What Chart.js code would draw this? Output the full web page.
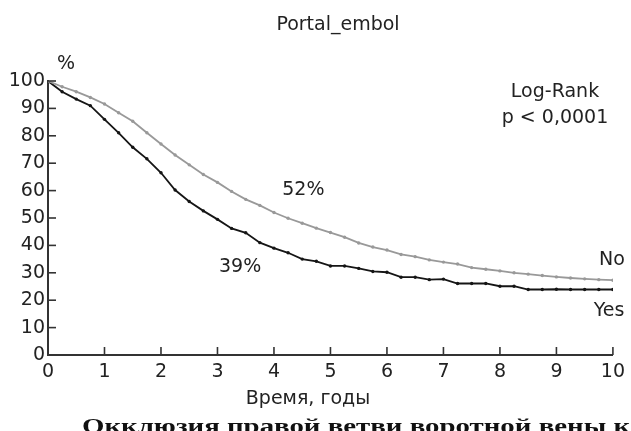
<!DOCTYPE html>
<html>
<head>
<meta charset="utf-8">
<script src="https://cdn.jsdelivr.net/npm/chart.js@4"></script>
<style>
  html, body { margin: 0; padding: 0; background: #fff; }
  #wrap { width: 631px; height: 431px; position: relative; }
</style>
</head>
<body>
<div id="wrap"><canvas id="chart"></canvas></div>
<script>
// survival, % by time in years
const years = [0, 0.25, 0.5, 0.75, 1, 1.25, 1.5, 1.75, 2, 2.25, 2.5, 2.75, 3, 3.25, 3.5, 3.75,
  4, 4.25, 4.5, 4.75, 5, 5.25, 5.5, 5.75, 6, 6.25, 6.5, 6.75, 7, 7.25, 7.5, 7.75,
  8, 8.25, 8.5, 8.75, 9, 9.25, 9.5, 9.75, 10];
const embolNo = [100, 97.9, 96.1, 94.0, 91.6, 88.4, 85.3, 81.1, 77.0, 73.0, 69.4, 65.9, 63.0, 59.7, 56.8, 54.6,
  52, 49.9, 48.1, 46.3, 44.7, 43.0, 40.9, 39.4, 38.3, 36.7, 35.9, 34.7, 33.9, 33.2, 31.9, 31.3,
  30.7, 30.0, 29.5, 29.0, 28.5, 28.1, 27.8, 27.5, 27.3];
const embolYes = [100, 96.1, 93.4, 91.0, 86.0, 81.1, 75.8, 71.6, 66.5, 60.2, 56.0, 52.6, 49.5, 46.2, 44.6, 41.0,
  39, 37.3, 35.0, 34.2, 32.5, 32.5, 31.6, 30.5, 30.2, 28.4, 28.4, 27.5, 27.7, 26.1, 26.1, 26.1,
  25.1, 25.1, 23.9, 23.9, 24.0, 23.9, 23.9, 23.9, 23.9];
const xTicks = [0, 1, 2, 3, 4, 5, 6, 7, 8, 9, 10];
const yTicks = [0, 10, 20, 30, 40, 50, 60, 70, 80, 90, 100];

const SANS = '"DejaVu Sans", sans-serif';
const INK = '#222';

function toPoints(vals) {
  return vals.map((v, i) => ({ x: years[i], y: v }));
}

// inward tick marks + all the free text around the plot
const decorations = {
  id: 'decorations',
  afterDraw(chart) {
    const ctx = chart.ctx;
    const x = chart.scales.x, y = chart.scales.y;
    const area = chart.chartArea;

    ctx.save();
    ctx.strokeStyle = '#333';
    ctx.lineWidth = 1.6;
    for (const t of xTicks) {
      if (t === 0) continue;
      const px = x.getPixelForValue(t);
      ctx.beginPath();
      ctx.moveTo(px, area.bottom);
      ctx.lineTo(px, area.bottom - 8);
      ctx.stroke();
    }
    for (const t of yTicks) {
      if (t === 0) continue;
      const py = y.getPixelForValue(t);
      ctx.beginPath();
      ctx.moveTo(area.left, py);
      ctx.lineTo(area.left + 8, py);
      ctx.stroke();
    }

    ctx.fillStyle = INK;
    ctx.textAlign = 'center';
    ctx.textBaseline = 'alphabetic';
    ctx.font = '19px ' + SANS;
    ctx.fillText('Portal_embol', 338, 30);
    ctx.fillText('%', 66, 69);
    ctx.fillText('Log-Rank', 555, 97);
    ctx.fillText('p < 0,0001', 555, 123);
    ctx.fillText('52%', x.getPixelForValue(4.52), 195);
    ctx.fillText('39%', x.getPixelForValue(3.4), 272);
    ctx.fillText('No', 612, 265);
    ctx.fillText('Yes', 609, 316);
    ctx.fillText('Время, годы', 308, 404);

    // caption running off the bottom edge, stretched to its line width
    const caption = 'Окклюзия правой ветви воротной вены к';
    ctx.textAlign = 'left';
    ctx.font = 'bold 22px "Liberation Serif", serif';
    ctx.fillStyle = '#111';
    const w = ctx.measureText(caption).width;
    ctx.translate(82, 433);
    ctx.scale(548 / w, 1);
    ctx.fillText(caption, 0, 0);
    ctx.restore();
  }
};

new Chart(document.getElementById('chart'), {
  type: 'line',
  data: {
    datasets: [
      {
        label: 'No',
        data: toPoints(embolNo),
        borderColor: '#999',
        backgroundColor: '#999',
        borderWidth: 1.8,
        pointRadius: 1.7,
        pointBorderWidth: 0,
        tension: 0
      },
      {
        label: 'Yes',
        data: toPoints(embolYes),
        borderColor: '#151515',
        backgroundColor: '#151515',
        borderWidth: 1.8,
        pointRadius: 1.7,
        pointBorderWidth: 0,
        tension: 0
      }
    ]
  },
  options: {
    responsive: true,
    maintainAspectRatio: false,
    animation: false,
    layout: { padding: { top: 81, right: 15, bottom: 0, left: 0 } },
    plugins: {
      legend: { display: false },
      tooltip: { enabled: false }
    },
    scales: {
      x: {
        type: 'linear',
        min: 0,
        max: 10,
        afterFit: s => { s.height = 76; },
        afterBuildTicks: s => { s.ticks = xTicks.map(v => ({ value: v })); },
        grid: { display: true, drawOnChartArea: false, drawTicks: false },
        border: { display: true, color: '#333', width: 2 },
        ticks: { color: INK, font: { family: SANS, size: 19 }, padding: 6, maxRotation: 0 }
      },
      y: {
        min: 0,
        max: 100,
        afterFit: s => { s.width = 48; },
        afterBuildTicks: s => { s.ticks = yTicks.map(v => ({ value: v })); },
        grid: { display: true, drawOnChartArea: false, drawTicks: false },
        border: { display: true, color: '#333', width: 2 },
        ticks: { color: INK, font: { family: SANS, size: 19 }, padding: 3 }
      }
    }
  },
  plugins: [decorations]
});
</script>
</body>
</html>
